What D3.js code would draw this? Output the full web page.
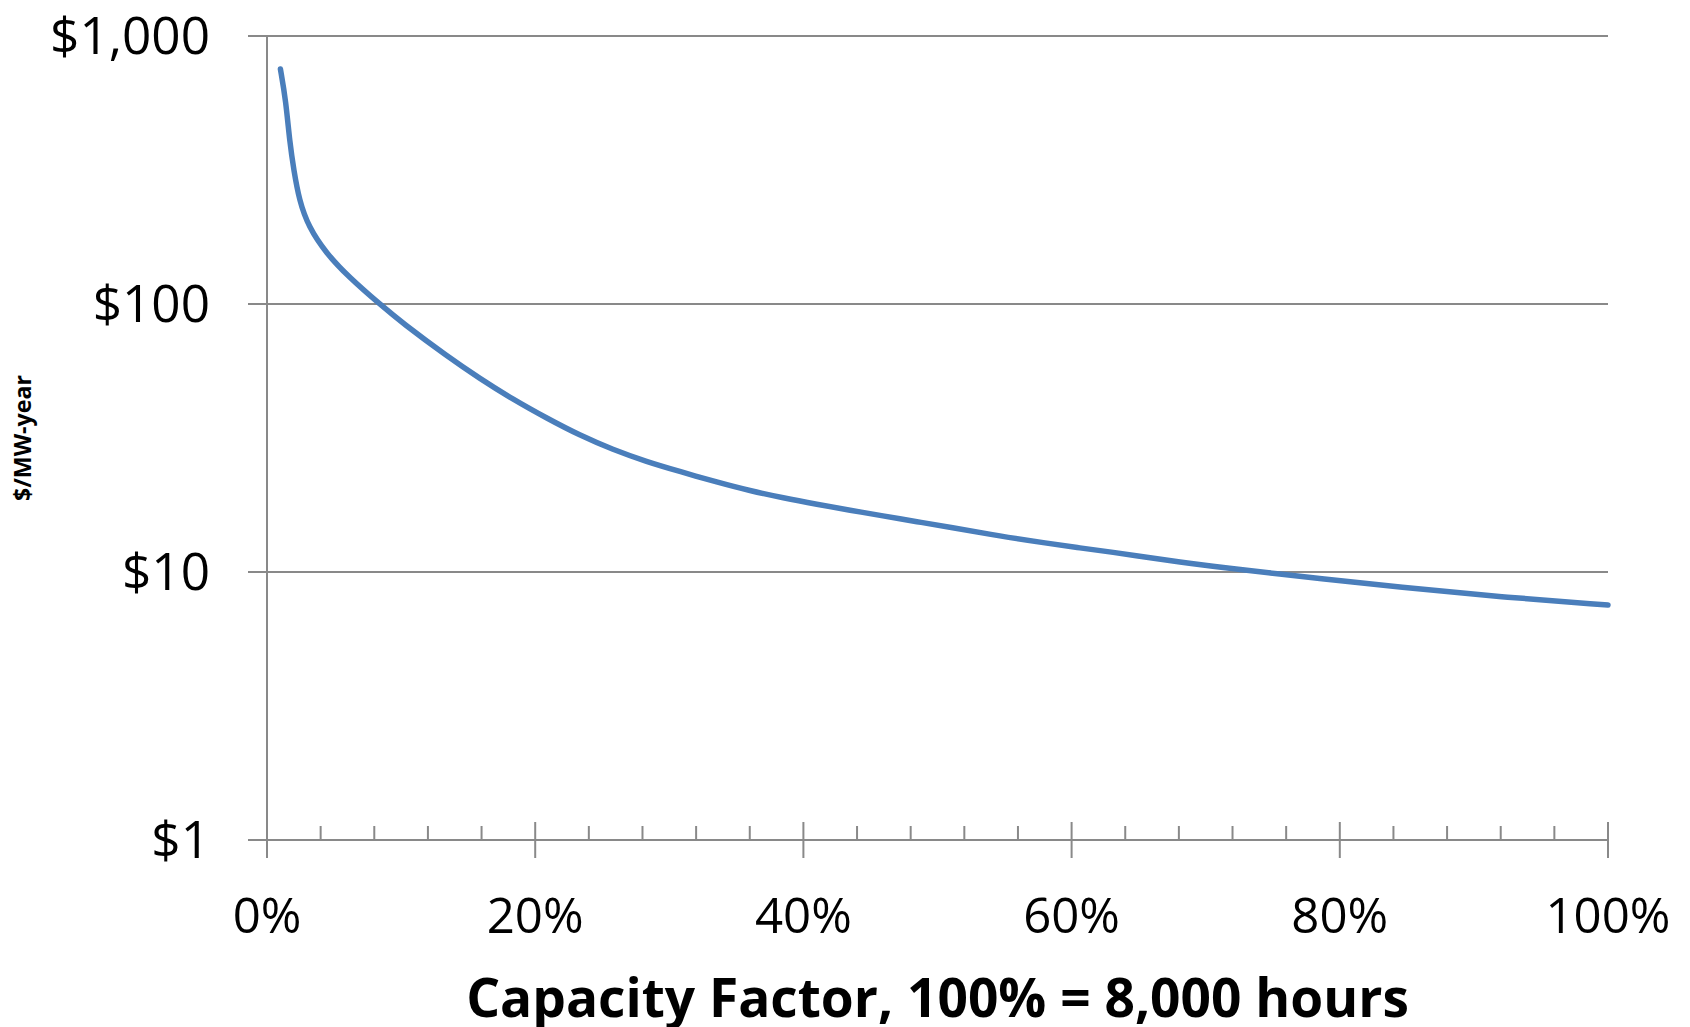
<!DOCTYPE html>
<html>
<head>
<meta charset="utf-8">
<script src="https://cdn.jsdelivr.net/npm/d3@7"></script>
<style>
  html, body { margin: 0; padding: 0; background: #fff; }
  svg { display: block; }
</style>
</head>
<body>
<svg id="chart" width="1690" height="1027"></svg>
<script>
// ---- Data ----
const capacityFactor = [1, 1.4, 1.7, 2, 2.4, 3.1, 4.4, 6.1, 8.5, 10.1, 13.4, 15.9, 18.3, 20.9, 23.3, 25.8, 28.3, 30.8, 33.6, 36, 38.5, 41, 43.5, 45.9, 48.5, 50.9, 54.7, 58.2, 60.6, 63.1, 65.6, 68.1, 70.5, 73.1, 75.5, 78, 84.5, 92, 100];
const costPerMWYear = [753, 577, 399, 316, 244, 194, 155, 126, 99, 85, 64, 52.6, 44.2, 37.4, 32.4, 28.6, 25.8, 23.7, 21.6, 20.1, 18.9, 17.9, 17.0, 16.2, 15.4, 14.7, 13.6, 12.8, 12.3, 11.85, 11.35, 10.9, 10.5, 10.15, 9.83, 9.5, 8.79, 8.07, 7.53];
const xTickValues = [0, 20, 40, 60, 80, 100];
const xTickLabels = ["0%", "20%", "40%", "60%", "80%", "100%"];
const xMinorTickValues = [4, 8, 12, 16, 24, 28, 32, 36, 44, 48, 52, 56, 64, 68, 72, 76, 84, 88, 92, 96];
const yTickValues = [1, 10, 100, 1000];
const yTickLabels = ["$1", "$10", "$100", "$1,000"];
const xTitle = "Capacity Factor, 100% = 8,000 hours";
const yTitle = "$/MW-year";

(function () {
// ---- Layout ----
const svg = d3.select("#chart");
const plotLeft = 267, plotRight = 1608, plotTop = 36, plotBottom = 840;
const axisColor = "#898989";
const font = "'Open Sans', 'DejaVu Sans', sans-serif";

const x = d3.scaleLinear().domain([0, 100]).range([plotLeft, plotRight]);
const y = d3.scaleLog().domain([1, 1000]).range([plotBottom, plotTop]);

// Gridlines (with outside y tick marks)
svg.append("g").selectAll("line").data(yTickValues.filter(d => d > 1)).join("line")
  .attr("x1", plotLeft - 19).attr("x2", plotRight)
  .attr("y1", d => y(d)).attr("y2", d => y(d))
  .attr("stroke", axisColor).attr("stroke-width", 2);

// Y axis line
svg.append("line")
  .attr("x1", plotLeft).attr("x2", plotLeft)
  .attr("y1", y(1000)).attr("y2", plotBottom + 18)
  .attr("stroke", axisColor).attr("stroke-width", 2);

// X axis line
svg.append("line")
  .attr("x1", plotLeft - 19).attr("x2", plotRight)
  .attr("y1", y(1)).attr("y2", y(1))
  .attr("stroke", axisColor).attr("stroke-width", 2);

// X major ticks (cross)
svg.append("g").selectAll("line").data(xTickValues).join("line")
  .attr("x1", d => x(d)).attr("x2", d => x(d))
  .attr("y1", plotBottom - 18).attr("y2", plotBottom + 18)
  .attr("stroke", axisColor).attr("stroke-width", 2);

// X minor ticks (inside)
svg.append("g").selectAll("line").data(xMinorTickValues).join("line")
  .attr("x1", d => x(d)).attr("x2", d => x(d))
  .attr("y1", plotBottom - 14).attr("y2", plotBottom)
  .attr("stroke", axisColor).attr("stroke-width", 2);

function measureSize(text, weight, targetWidth) {
  const t = svg.append("text").attr("font-family", font).attr("font-weight", weight)
    .attr("font-size", 50).text(text);
  const s = 50 * targetWidth / t.node().getComputedTextLength();
  t.remove();
  return s;
}

// Y tick labels
const yLabelSize = measureSize("$1,000", "normal", 160);
svg.append("g").selectAll("text").data(yTickValues).join("text")
  .attr("x", 210)
  .attr("y", d => y(d) + 0.357 * yLabelSize)
  .attr("text-anchor", "end")
  .attr("font-family", font)
  .attr("font-size", yLabelSize)
  .attr("fill", "#000")
  .text((d, i) => yTickLabels[i]);

// X tick labels
const xLabelSize = measureSize("100%", "normal", 125);
svg.append("g").selectAll("text").data(xTickValues).join("text")
  .attr("x", d => x(d))
  .attr("y", 933)
  .attr("text-anchor", "middle")
  .attr("font-family", font)
  .attr("font-size", xLabelSize)
  .attr("fill", "#000")
  .text((d, i) => xTickLabels[i]);

// X title
const xTitleSize = measureSize(xTitle, "bold", 943);
svg.append("text")
  .attr("x", (plotLeft + plotRight) / 2)
  .attr("y", 1017)
  .attr("text-anchor", "middle")
  .attr("font-family", font)
  .attr("font-weight", "bold")
  .attr("font-size", xTitleSize)
  .attr("fill", "#000")
  .text(xTitle);

// Y title
const yTitleSize = measureSize(yTitle, "bold", 126);
svg.append("text")
  .attr("transform", `translate(31, ${(plotTop + plotBottom) / 2}) rotate(-90)`)
  .attr("text-anchor", "middle")
  .attr("font-family", font)
  .attr("font-weight", "bold")
  .attr("font-size", yTitleSize)
  .attr("fill", "#000")
  .text(yTitle);

// Curve
const line = d3.line()
  .x(d => x(d[0]))
  .y(d => y(d[1]))
  .curve(d3.curveBasis);
svg.append("path")
  .datum(capacityFactor.map((c, i) => [c, costPerMWYear[i]]))
  .attr("d", line)
  .attr("fill", "none")
  .attr("stroke", "#4a7ebb")
  .attr("stroke-width", 5.5)
  .attr("stroke-linecap", "round")
  .attr("stroke-linejoin", "round");
})();
</script>
</body>
</html>
